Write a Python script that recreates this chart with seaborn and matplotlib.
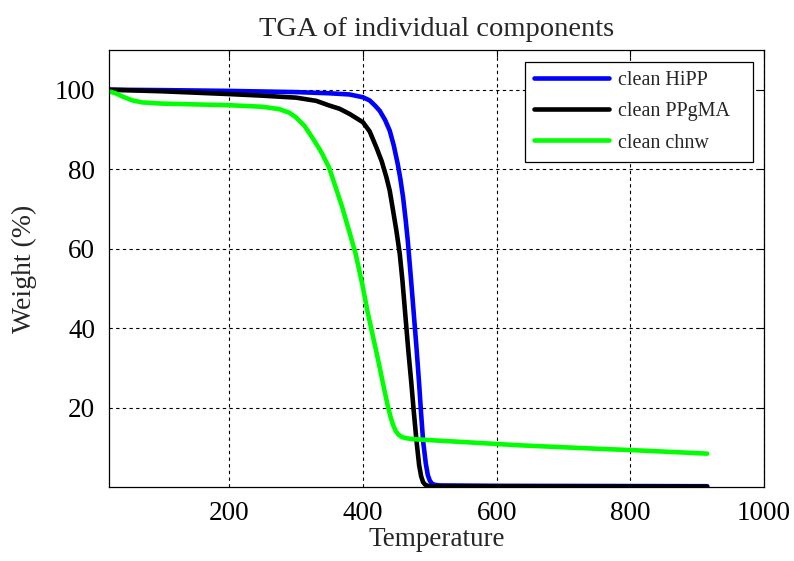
import matplotlib
matplotlib.use("Agg")
import matplotlib.pyplot as plt
import seaborn as sns
import pandas as pd

# ---- data ----
t_hipp = [20, 100, 200, 300, 350, 380, 400, 410, 418, 425, 433, 440, 446, 452, 456, 460, 464, 467,
          471, 474, 477, 480, 484, 487, 490, 494, 497, 500, 503, 507, 515, 600, 915]
w_hipp = [100, 99.9, 99.7, 99.4, 99.1, 98.8, 98.1, 97.3, 96.0, 94.7, 92.4, 89.7, 86, 81.3, 77.5,
          72.9, 67, 62, 54, 47.8, 41.5, 35.2, 26, 18.4, 11.5, 5.9, 3.0, 1.6, 0.9, 0.55, 0.4, 0.3, 0.2]

t_ppgma = [20, 100, 200, 250, 300, 330, 350, 365, 380, 400, 410, 420, 428, 435, 440, 445, 450,
           455, 459, 462, 465, 468, 472, 476, 480, 484, 487, 490, 493, 497, 505, 915]
w_ppgma = [100, 99.6, 98.9, 98.5, 98, 97.2, 96, 95.2, 93.9, 91.8, 89.5, 85.5, 82, 78, 74.6,
           69.6, 64.5, 58.7, 52, 46, 40, 34, 26.8, 19, 11.7, 5.5, 2.7, 1.2, 0.6, 0.3, 0.15, 0.1]

t_chnw = [20, 30, 40, 55, 70, 100, 200, 250, 275, 290, 300, 312, 324, 337, 349, 360, 369, 380,
          389, 399, 407, 414, 422, 429, 437, 441, 445, 449, 453, 458, 464, 472, 480, 500, 634,
          754, 800, 915]
w_chnw = [99.6, 99.1, 98.3, 97.3, 96.8, 96.5, 96.1, 95.7, 95.1, 94.2, 93, 91, 88, 84.5, 80.5,
          75, 70.4, 64, 58.7, 51, 44, 38.6, 32.5, 26.8, 20.5, 17.8, 15.6, 14.1, 13.2, 12.6, 12.3,
          12.1, 12.0, 11.8, 10.5, 9.6, 9.3, 8.4]

series_names = ["clean HiPP", "clean PPgMA", "clean chnw"]
series_colors = ["#0000ff", "#000000", "#00ff00"]
x_ticks = [200, 400, 600, 800, 1000]
y_ticks = [20, 40, 60, 80, 100]

frames = []
for name, t, w in zip(series_names, [t_hipp, t_ppgma, t_chnw], [w_hipp, w_ppgma, w_chnw]):
    frames.append(pd.DataFrame({"Temperature": t, "Weight": w, "series": name}))
df = pd.concat(frames, ignore_index=True)

sns.set_style("white")
plt.rcParams["font.family"] = ["Liberation Serif", "DejaVu Serif"]

fig = plt.figure(figsize=(7.94, 5.61), dpi=100)
ax = fig.add_axes([0.1373, 0.1319, 0.9622 - 0.1373, 0.9109 - 0.1319])

sns.lineplot(data=df, x="Temperature", y="Weight", hue="series", hue_order=series_names,
             palette=series_colors, linewidth=3.3, sort=False, estimator=None, ax=ax)

ax.set_xlim(20, 1000)
ax.set_ylim(0, 110)
ax.set_xticks(x_ticks)
ax.set_yticks(y_ticks)
ax.tick_params(direction="in", length=5, width=0.8, top=True, right=True,
               labelsize=19.5, colors="black", pad=10)
for s in ax.spines.values():
    s.set_visible(True)
    s.set_color("black")
    s.set_linewidth(0.9)
ax.grid(True, color="black", linestyle=(0, (3, 3)), linewidth=0.8)
ax.set_axisbelow(True)

ax.set_xlabel("Temperature", fontsize=19.5, labelpad=1)
ax.set_ylabel("Weight (%)", fontsize=20, labelpad=13)
ax.set_title("TGA of individual components", fontsize=20.5, pad=10)

handles, labels = ax.get_legend_handles_labels()
leg = ax.legend(handles, [lab + "   " for lab in labels], loc="upper right", fontsize=14.5,
                frameon=True, fancybox=False, edgecolor="black", framealpha=1,
                borderpad=0.45, handlelength=3.7, handletextpad=0.45, labelspacing=0.6,
                borderaxespad=0, bbox_to_anchor=(0.983, 0.9725))
leg.get_frame().set_linewidth(0.9)
for line in leg.get_lines():
    line.set_linewidth(3.3)

fig.savefig("out.png", dpi=100)
